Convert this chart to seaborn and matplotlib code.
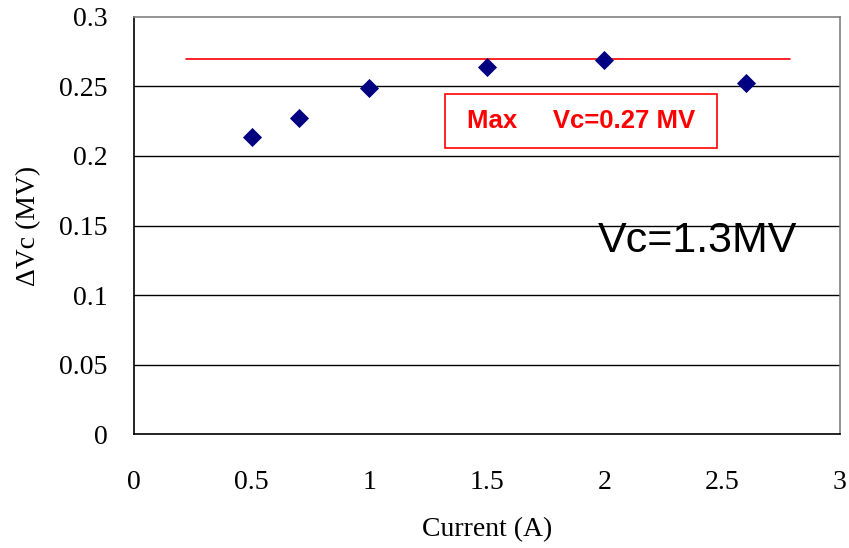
import matplotlib
matplotlib.use("Agg")
import matplotlib.pyplot as plt
import seaborn as sns
import pandas as pd
from matplotlib.patches import Rectangle

# Measured voltage rise versus beam current
current = [0.5, 0.7, 1.0, 1.5, 2.0, 2.6]
delta_vc = [0.214, 0.227, 0.249, 0.264, 0.269, 0.2525]
max_vc = 0.27
max_line_x = [0.22, 2.79]
x_ticks = [0, 0.5, 1, 1.5, 2, 2.5, 3]
y_ticks = [0, 0.05, 0.1, 0.15, 0.2, 0.25, 0.3]

df = pd.DataFrame({"Current (A)": current, "dVc": delta_vc})

sns.set_theme(style="white")
plt.rcParams["font.family"] = ["Liberation Serif", "DejaVu Serif"]
plt.rcParams["text.color"] = "black"
plt.rcParams["axes.labelcolor"] = "black"
plt.rcParams["xtick.color"] = "black"
plt.rcParams["ytick.color"] = "black"

fig = plt.figure(figsize=(8.49, 5.48), dpi=100)
ax = fig.add_axes([0.158, 0.208, 0.831, 0.761])

for y in y_ticks[1:-1]:
    ax.axhline(y, color="black", lw=1.0, zorder=1)

sns.scatterplot(data=df, x="Current (A)", y="dVc", marker="D", s=95,
                color="#000080", edgecolor="#000080", linewidth=0, ax=ax, zorder=3)

ax.plot(max_line_x, [max_vc, max_vc], color="red", lw=1.2, zorder=2)

ax.set_xlim(0, 3)
ax.set_ylim(0, 0.3)
ax.set_xticks(x_ticks)
ax.set_xticklabels([f"{v:g}" for v in x_ticks])
ax.set_yticks(y_ticks)
ax.set_yticklabels([f"{v:g}" for v in y_ticks])
ax.tick_params(axis="x", direction="in", length=7, width=1, color="black",
               labelsize=20, labelcolor="black", pad=26)
ax.tick_params(axis="y", length=0, labelsize=20, labelcolor="black", pad=19)

for side in ["left", "bottom"]:
    ax.spines[side].set_color("black")
    ax.spines[side].set_linewidth(1.2)
for side in ["top", "right"]:
    ax.spines[side].set_color("#808080")
    ax.spines[side].set_linewidth(1.2)

ax.set_xlabel("Current (A)", fontsize=20, labelpad=16, color="black")
ax.set_ylabel("\u0394Vc (MV)", fontsize=20, labelpad=13, color="black")

# Annotation box for the maximum voltage
ax.add_patch(Rectangle((1.32, 0.2055), 1.157, 0.039, transform=ax.transData,
                       fill=False, edgecolor="red", lw=1.2, zorder=4))
ax.text(1.9, 0.2252, "Max     Vc=0.27 MV", color="red", fontsize=18.5,
        fontweight="bold", family=["Liberation Sans", "DejaVu Sans"],
        ha="center", va="center", zorder=5)

ax.text(2.82, 0.1385, "Vc=1.3MV", color="black", fontsize=31,
        family=["Liberation Sans", "DejaVu Sans"], ha="right", va="center")

fig.savefig("out.png", dpi=100)
